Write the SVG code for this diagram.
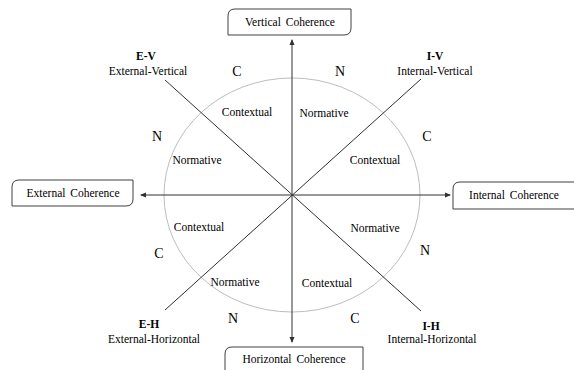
<svg xmlns="http://www.w3.org/2000/svg" width="574" height="370" viewBox="0 0 574 370">
<style>
text{font-family:"Liberation Serif","Times New Roman",serif;fill:#000;text-anchor:middle}
.s{font-size:11.5px}
.b{font-size:11.5px;font-weight:bold}
.l{font-size:14px}
.box{fill:#fff;stroke:#404040;stroke-width:1}
.ax{stroke:#303030;stroke-width:1;fill:none}
</style>
<defs>
<marker id="ah" markerWidth="6" markerHeight="6" refX="5" refY="3" orient="auto" markerUnits="userSpaceOnUse">
<path d="M0,0.5 L6,3 L0,5.5 Z" fill="#303030"/>
</marker>
</defs>
<rect width="574" height="370" fill="#fff"/>
<g id="circle"><ellipse cx="292" cy="195" rx="128" ry="117" fill="none" stroke="#bdbdbd" stroke-width="1"/></g>
<g id="connectors">
<line class="ax" x1="292" y1="195" x2="292" y2="40" marker-end="url(#ah)"/>
<line class="ax" x1="292" y1="195" x2="292" y2="342" marker-end="url(#ah)"/>
<line class="ax" x1="292" y1="195" x2="141" y2="195" marker-end="url(#ah)"/>
<line class="ax" x1="292" y1="195" x2="450" y2="195" marker-end="url(#ah)"/>
<line class="ax" x1="165" y1="80" x2="421" y2="311"/>
<line class="ax" x1="421" y1="79" x2="165" y2="310"/>
</g>
<g id="vertical">
<path class="box" d="M235,9 H351 V28 Q351,35 344,35 H228 V16 Q228,9 235,9 Z"/>
<text class="s" x="290" y="26" word-spacing="2">Vertical Coherence</text>
</g>
<g id="external">
<path class="box" d="M19,180 H133 V199 Q133,206 126,206 H12 V187 Q12,180 19,180 Z"/>
<text class="s" x="73" y="197" word-spacing="2">External Coherence</text>
</g>
<g id="internal">
<path class="box" d="M460,182 H580 V209 H453 V189 Q453,182 460,182 Z"/>
<text class="s" x="514" y="199" word-spacing="2">Internal Coherence</text>
</g>
<g id="horizontal">
<path class="box" d="M232,347 H363 V375 H225 V354 Q225,347 232,347 Z"/>
<text class="s" x="294" y="363" word-spacing="2">Horizontal Coherence</text>
</g>
<g id="ev">
<text class="b" x="146" y="60">E-V</text>
<text class="s" x="148" y="75">External-Vertical</text>
</g>
<g id="iv">
<text class="b" x="435" y="60">I-V</text>
<text class="s" x="435" y="75">Internal-Vertical</text>
</g>
<g id="eh">
<text class="b" x="149" y="328">E-H</text>
<text class="s" x="154" y="343">External-Horizontal</text>
</g>
<g id="ih">
<text class="b" x="431" y="330">I-H</text>
<text class="s" x="432" y="343">Internal-Horizontal</text>
</g>
<g id="labels">
<text class="l" x="237" y="76">C</text>
<text class="l" x="340" y="76">N</text>
<text class="l" x="157" y="141">N</text>
<text class="l" x="427" y="141">C</text>
<text class="l" x="159" y="258">C</text>
<text class="l" x="425" y="255">N</text>
<text class="l" x="233" y="323">N</text>
<text class="l" x="355" y="323">C</text>
<text class="s" x="247" y="116">Contextual</text>
<text class="s" x="324" y="117">Normative</text>
<text class="s" x="197" y="164">Normative</text>
<text class="s" x="375" y="164">Contextual</text>
<text class="s" x="199" y="231">Contextual</text>
<text class="s" x="375" y="232">Normative</text>
<text class="s" x="235" y="286">Normative</text>
<text class="s" x="327" y="287">Contextual</text>
</g>
</svg>
